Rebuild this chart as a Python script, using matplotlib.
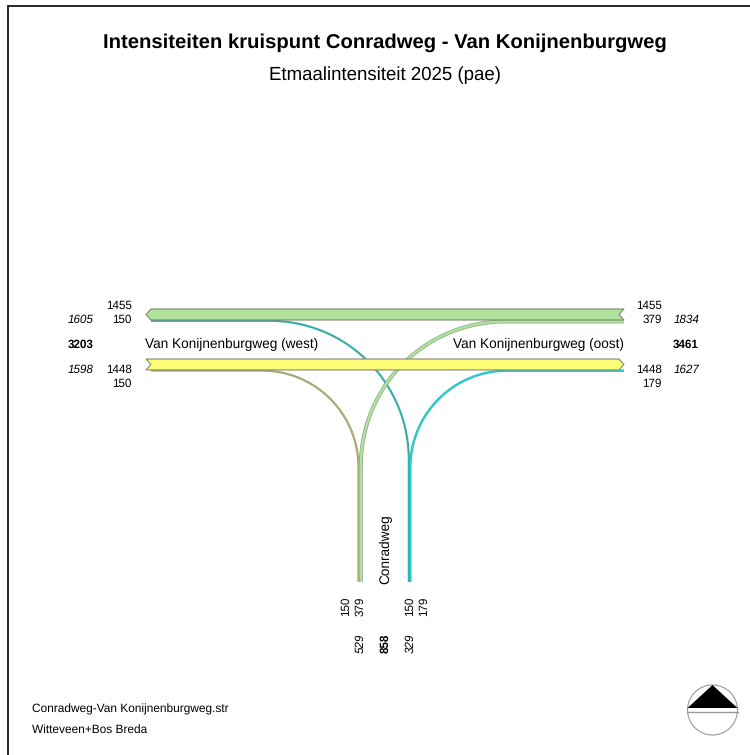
import numpy as np
import matplotlib
matplotlib.use("Agg")
import matplotlib.pyplot as plt
from matplotlib.patches import Polygon, Circle

plt.rcParams['font.family'] = ['Liberation Sans', 'DejaVu Sans']
plt.rcParams['text.hinting'] = 'none'
plt.rcParams['text.hinting_factor'] = 8

# waarden uit de figuur
doorgaand_boven = 1455
doorgaand_onder = 1448
west_boven = [1455, 150]
west_onder = [1448, 150]
oost_boven = [1455, 379]
oost_onder = [1448, 179]
zuid_links = [150, 379]
zuid_rechts = [150, 179]
west_som = [1605, 1598]
oost_som = [1834, 1627]
zuid_som = [529, 329]
totalen = [3203, 3461, 858]

SCHAAL = 11.0 / 1455  # pixels per pae
Y_BOVEN = 309
Y_ONDER = 359
X_W = 146
X_O = 624
Y_Z = 582
X_ZL = 359.5
X_ZR = 409.5
GROEN = '#b0e29c'
GEEL = '#fdfd78'
RAND = '#7f8a70'

fig = plt.figure(figsize=(7.5, 7.55), dpi=100)
ax = fig.add_axes([0, 0, 1, 1])
ax.set_xlim(0, 750)
ax.set_ylim(755, 0)
ax.axis('off')

# kader, alleen links en boven
ax.plot([7.5, 7.5, 750], [755, 5.5, 5.5], color='#151515', lw=1.3, solid_joinstyle='miter')


def hoofdband(y, waarde, kleur, links_punt):
    # band tussen de twee takken, een kant punt en andere kant inkeping
    h = waarde * SCHAAL
    p = 5
    if links_punt:
        pts = [(X_W, y + h / 2), (X_W + p, y), (X_O, y), (X_O - p, y + h / 2), (X_O, y + h), (X_W + p, y + h)]
    else:
        pts = [(X_W, y), (X_O - p, y), (X_O, y + h / 2), (X_O - p, y + h), (X_W, y + h), (X_W + p, y + h / 2)]
    ax.add_patch(Polygon(pts, closed=True, fc=kleur, ec=RAND, lw=0.8, zorder=3))


def afslag(x_start, x_eind, y, x_z, y_z, waarde, kleur, rand, zorder=2):
    # rechte stuk, kwartcirkel, en dan naar beneden
    b = max(waarde * SCHAAL, 1.1)
    richting = np.sign(x_z - x_eind)
    r = abs(x_z - x_eind)
    t = np.radians(np.arange(0, 91, 3))
    xs = x_eind + richting * r * np.sin(t)
    ys = y + r * (1 - np.cos(t))
    hart_x = np.concatenate([[x_start], xs, [x_z]])
    hart_y = np.concatenate([[y], ys, [y_z]])
    ax.plot(hart_x, hart_y, color=rand, lw=(b + 1.0) * 0.72, solid_capstyle='butt', zorder=zorder)
    ax.plot(hart_x, hart_y, color=kleur, lw=max(b - 0.4, 0.5) * 0.72, solid_capstyle='butt', zorder=zorder + 0.1)


h_b = doorgaand_boven * SCHAAL
h_o = doorgaand_onder * SCHAAL

afslag(X_W + 5, 270, Y_BOVEN + h_b + 0.8, X_ZR - 0.7, Y_Z, zuid_rechts[0], '#35b5ae', '#3ba8a8')
afslag(X_O, 505, Y_BOVEN + h_b + 1.5, X_ZL + 1.3, Y_Z, zuid_links[1], GROEN, '#86a886')
afslag(X_W + 5, 262, Y_ONDER + h_o + 0.6, X_ZL - 1, Y_Z, zuid_links[0], '#b9bd7c', '#9a9a6c')
afslag(X_O, 507, Y_ONDER + h_o + 0.7, X_ZR + 0.8, Y_Z, zuid_rechts[1], '#22e0e0', '#2ab0b0')

hoofdband(Y_BOVEN, doorgaand_boven, GROEN, True)
hoofdband(Y_ONDER, doorgaand_onder, GEEL, False)

# titels
ax.text(384.5, 43, 'Intensiteiten kruispunt Conradweg - Van Konijnenburgweg', ha='center', va='center',
        fontsize=14.6, fontweight='bold')
ax.text(384.5, 75, 'Etmaalintensiteit 2025 (pae)', ha='center', va='center', fontsize=13.4)

fs = 8.4
# links
ax.text(132, 306, str(west_boven[0]), ha='right', va='center', fontsize=fs)
ax.text(132, 320, str(west_boven[1]), ha='right', va='center', fontsize=fs)
ax.text(132, 369.5, str(west_onder[0]), ha='right', va='center', fontsize=fs)
ax.text(132, 383.5, str(west_onder[1]), ha='right', va='center', fontsize=fs)
ax.text(81, 320, str(west_som[0]), ha='center', va='center', fontsize=fs, style='italic')
ax.text(81, 369.5, str(west_som[1]), ha='center', va='center', fontsize=fs, style='italic')
ax.text(81, 344.5, str(totalen[0]), ha='center', va='center', fontsize=fs, fontweight='bold')
# rechts
ax.text(662, 306, str(oost_boven[0]), ha='right', va='center', fontsize=fs)
ax.text(662, 320, str(oost_boven[1]), ha='right', va='center', fontsize=fs)
ax.text(662, 369.5, str(oost_onder[0]), ha='right', va='center', fontsize=fs)
ax.text(662, 383.5, str(oost_onder[1]), ha='right', va='center', fontsize=fs)
ax.text(687, 320, str(oost_som[0]), ha='center', va='center', fontsize=fs, style='italic')
ax.text(687, 369.5, str(oost_som[1]), ha='center', va='center', fontsize=fs, style='italic')
ax.text(686, 344.5, str(totalen[1]), ha='center', va='center', fontsize=fs, fontweight='bold')
# onder
ax.text(345.5, 606, str(zuid_links[0]), ha='center', va='center', fontsize=fs, rotation=90)
ax.text(360, 606, str(zuid_links[1]), ha='center', va='center', fontsize=fs, rotation=90)
ax.text(410, 606, str(zuid_rechts[0]), ha='center', va='center', fontsize=fs, rotation=90)
ax.text(423.5, 606, str(zuid_rechts[1]), ha='center', va='center', fontsize=fs, rotation=90)
ax.text(360, 643, str(zuid_som[0]), ha='center', va='center', fontsize=fs, rotation=90, style='italic')
ax.text(410, 643, str(zuid_som[1]), ha='center', va='center', fontsize=fs, rotation=90, style='italic')
ax.text(385.5, 643, str(totalen[2]), ha='center', va='center', fontsize=fs, rotation=90, fontweight='bold')

# wegnamen
ax.text(145, 344.5, 'Van Konijnenburgweg (west)', ha='left', va='center', fontsize=9.85)
ax.text(624, 344.5, 'Van Konijnenburgweg (oost)', ha='right', va='center', fontsize=9.85)
ax.text(385.5, 549, 'Conradweg', ha='center', va='center', fontsize=9.85, rotation=90)

# voetnoot
ax.text(32, 709, 'Conradweg-Van Konijnenburgweg.str', ha='left', va='center', fontsize=8.55)
ax.text(32, 730, 'Witteveen+Bos Breda', ha='left', va='center', fontsize=8.55)

# noordpijl
cx, cy, r = 712.5, 710, 25
ax.add_patch(Circle((cx, cy), r, fc='white', ec='#9a9a9a', lw=0.8, zorder=4))
ax.add_patch(Polygon([(cx, cy - r), (cx - r, cy - 2), (cx + r, cy - 2)], closed=True, fc='black', ec='none', zorder=5))
ax.plot([cx - r, cx + r], [cy + 2, cy + 2], color='#9a9a9a', lw=1.0, zorder=5)

fig.savefig('out.png', dpi=100)
